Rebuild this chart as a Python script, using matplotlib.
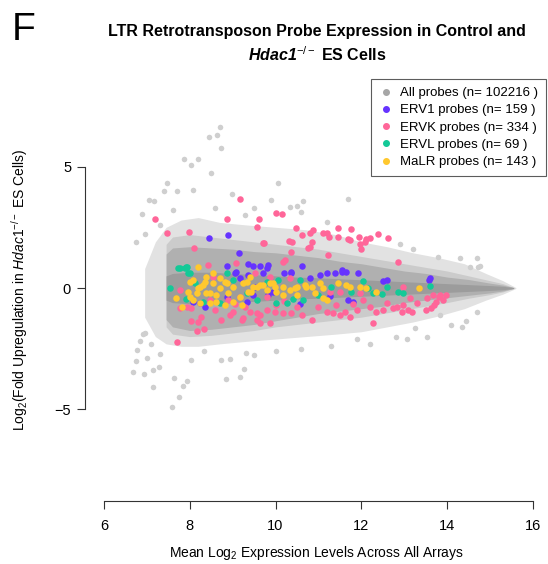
import matplotlib
matplotlib.use('Agg')
import matplotlib.pyplot as plt
from matplotlib.lines import Line2D

plt.rcParams['font.family'] = ['Liberation Sans', 'DejaVu Sans']
plt.rcParams['mathtext.fontset'] = 'custom'
plt.rcParams['mathtext.rm'] = 'Liberation Sans'
plt.rcParams['mathtext.it'] = 'Liberation Sans:italic'
plt.rcParams['mathtext.bf'] = 'Liberation Sans:bold'
plt.rcParams['mathtext.bfit'] = 'Liberation Sans:bold:italic'

# gray cloud outline
halo_x = [6.95, 7.2, 7.45, 7.8, 8.2, 8.7, 9.3, 10.0, 10.7, 11.4, 12.0, 12.6, 13.2, 13.8, 14.4, 14.9, 15.3, 15.6]
halo_hi = [0.8, 1.9, 2.5, 2.8, 2.9, 2.7, 2.6, 2.5, 2.4, 2.2, 1.9, 1.7, 1.45, 1.25, 1.0, 0.6, 0.3, 0.02]
halo_lo = [-1.2, -2.0, -2.3, -2.4, -2.4, -2.3, -2.2, -2.1, -2.0, -1.9, -1.8, -1.6, -1.4, -1.15, -0.85, -0.5, -0.25, -0.02]

dense_x = [7.45, 7.6, 8.0, 8.5, 9.0, 9.5, 10.0, 10.5, 11.0, 11.5, 12.0, 12.5, 13.0, 13.5, 14.0, 14.5, 15.0, 15.3, 15.55]
mid_hi = [1.8, 2.1, 2.2, 2.1, 2.0, 1.9, 1.8, 1.7, 1.6, 1.45, 1.3, 1.15, 1.0, 0.85, 0.7, 0.5, 0.3, 0.18, 0.02]
mid_lo = [-1.6, -1.9, -2.0, -1.95, -1.85, -1.75, -1.6, -1.5, -1.4, -1.3, -1.2, -1.05, -0.9, -0.75, -0.6, -0.42, -0.27, -0.16, -0.02]
dense_hi = [1.4, 1.65, 1.7, 1.65, 1.6, 1.5, 1.45, 1.35, 1.25, 1.1, 1.0, 0.85, 0.7, 0.6, 0.45, 0.35, 0.2, 0.12, 0.02]
dense_lo = [-1.3, -1.6, -1.75, -1.7, -1.6, -1.5, -1.35, -1.2, -1.05, -0.95, -0.85, -0.75, -0.6, -0.5, -0.4, -0.3, -0.2, -0.12, -0.02]
core_hi = [0.5, 0.6, 0.65, 0.65, 0.6, 0.55, 0.5, 0.45, 0.42, 0.38, 0.34, 0.3, 0.26, 0.22, 0.18, 0.14, 0.1, 0.07, 0.02]
core_lo = [-0.5, -0.6, -0.65, -0.65, -0.6, -0.55, -0.5, -0.45, -0.42, -0.38, -0.34, -0.3, -0.26, -0.22, -0.18, -0.14, -0.1, -0.07, -0.02]

# scattered gray probes outside the cloud
gray_pts = [
    (8.70, 6.63), (8.63, 6.30), (8.45, 6.20), (8.72, 5.77), (7.87, 5.30), (8.02, 5.06), (8.20, 5.30),
    (8.49, 4.75), (7.48, 4.33), (7.40, 4.00), (7.70, 4.00), (8.07, 4.03), (8.98, 3.87), (10.06, 4.33),
    (7.05, 3.62), (7.17, 3.58), (6.89, 3.05), (6.76, 1.90), (6.96, 2.22), (9.89, 3.62), (9.50, 3.29),
    (11.69, 3.67), (10.63, 3.58), (10.49, 3.37), (10.34, 3.35), (10.59, 3.14), (11.2, 2.7), (9.3, 3.0),
    (8.6, 3.3), (7.6, 3.2), (7.3, 2.6), (12.9, 1.8), (13.2, 1.6),
    (6.68, -3.47), (6.74, -3.00), (6.78, -2.55), (6.96, -1.85), (7.15, -4.06), (6.94, -3.56),
    (7.15, -3.37), (7.28, -3.25), (7.58, -4.88), (7.75, -4.49), (7.63, -3.70), (7.94, -3.84),
    (7.85, -4.03), (8.84, -3.76), (9.17, -3.65), (9.26, -3.32), (8.04, -2.96), (8.34, -2.60),
    (8.72, -2.96), (8.94, -2.92), (9.49, -2.77), (9.31, -2.66), (6.92, -1.89), (7.1, -2.3),
    (7.3, -2.7), (7.0, -2.9), (6.85, -2.2), (12.2, -2.3), (12.8, -2.0), (11.3, -2.4), (10.6, -2.5),
    (10.0, -2.6), (11.9, -2.1),
    (14.30, 1.22), (14.53, 0.86), (14.72, 0.86), (13.79, 1.29), (14.70, 1.22), (14.76, 0.92),
    (14.09, -1.52), (14.35, -1.60), (14.45, -1.35), (13.52, -2.03), (13.25, -1.65), (13.06, -2.10),
    (13.83, -1.11), (14.69, -0.97),
]

ervk_pts = [
    (9.17, 3.65), (7.19, 2.83), (7.48, 2.25), (7.99, 2.30), (8.86, 2.84), (9.61, 2.83), (9.58, 2.50),
    (10.01, 3.07), (10.14, 3.05), (10.48, 2.46), (9.74, 1.86), (10.38, 1.90), (8.11, 1.63), (10.17, 1.06),
    (10.62, 2.18), (10.88, 2.39), (11.11, 2.25), (11.25, 2.09), (11.46, 2.46), (11.75, 2.42),
    (11.94, 2.11), (11.70, 2.00), (11.46, 2.11), (10.84, 1.90), (10.75, 1.66), (11.23, 1.36),
    (12.10, 2.02), (12.21, 2.04), (12.39, 2.21), (12.63, 2.04), (11.97, 1.81), (12.00, 1.60),
    (12.86, 1.08), (10.31, 1.93), (10.37, 1.49), (10.22, 1.15), (10.80, 2.25), (11.20, 2.25),
    (11.73, 1.98), (12.08, 1.91), (10.80, 1.70), (9.71, 1.84), (8.42, 0.95), (9.09, 1.01),
    (13.68, -0.29), (13.81, -0.36), (13.75, -0.56), (13.70, -0.70), (13.62, -0.84), (13.97, -0.29),
    (9.05, -0.66), (9.25, -1.25), (9.64, -1.11), (9.87, -1.45), (9.99, -0.97), (10.18, -1.04),
    (10.37, -1.04), (10.61, -1.11), (10.84, -1.32), (11.19, -0.97), (11.34, -1.04), (11.50, -1.11),
    (11.62, -0.97), (11.73, -1.18), (11.89, -0.91), (12.04, -0.49), (12.28, -1.45), (12.35, -0.97),
    (12.51, -0.91), (12.74, -0.84), (12.94, -0.97), (13.17, -0.97), (12.98, -0.70), (8.94, -1.11),
    (9.40, -0.97), (12.98, 0.05), (13.13, -0.42), (13.09, -0.91), (13.52, -0.42), (13.83, -0.29),
    (13.91, -0.49), (7.71, -2.21), (8.18, -1.77), (8.33, -1.70), (8.04, -1.35), (8.20, -1.39),
    (8.27, -1.18), (8.74, -1.32), (9.01, -0.97), (9.21, -1.32), (9.56, -1.32), (7.77, -0.84),
    (8.04, -0.84), (9.52, 0.60), (10.34, 0.40), (11.27, -0.15), (11.50, -0.15), (11.97, -0.22),
    (9.56, -1.04), (9.79, -0.91), (9.64, -1.45), (12.82, -0.77), (8.55, 0.47), (9.17, -0.36),
    (8.47, -0.49), (9.79, -0.36), (9.87, 0.47), (7.93, -0.77), (10.0, -0.7), (10.5, -0.8),
    (11.0, -0.8), (11.4, -0.7), (12.2, -0.8), (12.6, -0.6), (13.3, -0.6), (13.5, -0.9), (10.2, -0.55),
    (11.8, -0.65), (9.3, -0.8), (8.6, -0.9), (8.9, -0.5), (7.78, -0.1),
]

erv1_pts = [
    (8.45, 2.04), (8.89, 2.18), (9.15, 1.43), (8.86, 0.92), (9.36, 0.99), (9.48, 0.92), (9.64, 0.92),
    (9.79, 0.81), (10.20, 0.63), (8.08, -0.56), (8.35, -0.77), (9.09, 0.67), (9.17, 0.40), (9.52, 0.05),
    (8.24, -0.63), (9.33, -0.56), (9.83, 0.95), (9.71, 0.60), (10.37, 0.63), (10.61, 0.91), (10.80, 0.40),
    (11.03, 0.53), (11.19, 0.60), (11.38, 0.60), (11.54, 0.67), (11.65, 0.67), (11.93, 0.63),
    (12.51, 0.29), (12.59, 0.33), (11.69, -0.49), (11.81, -0.56), (11.27, -0.33), (9.95, -0.15),
    (10.57, -0.66), (9.48, -0.29), (13.58, 0.33), (13.61, 0.40), (9.05, 0.60), (9.36, 0.53),
    (9.83, -0.29), (8.86, -0.36), (10.35, 0.67), (11.54, 0.74),
]

ervl_pts = [
    (7.77, 0.81), (7.89, 0.81), (7.94, 0.88), (7.96, 0.63), (7.73, 0.81), (7.91, 0.85), (8.00, 0.60),
    (7.54, 0.00), (7.91, -0.47), (9.79, 0.26), (10.02, -0.63), (10.41, -0.47), (10.64, -0.49),
    (11.30, 0.05), (12.04, 0.30), (12.47, -0.25), (12.86, -0.15), (12.98, -0.19), (11.77, -0.15),
    (9.56, -0.49), (13.60, 0.08), (8.70, -0.63), (8.86, 0.60), (9.33, -0.22), (10.06, 0.33),
    (10.57, 0.33), (12.16, -0.01), (10.26, -0.63), (12.28, -0.22), (8.12, 0.19), (8.31, -0.56),
    (9.0, 0.35), (11.0, -0.3), (12.6, 0.05),
]

malr_pts = [
    (8.20, 0.88), (8.00, 0.26), (7.96, -0.15), (7.69, -0.42), (7.81, -0.79), (8.24, 0.05), (8.35, 0.26),
    (8.16, -0.22), (8.39, -0.22), (8.55, 0.19), (8.62, -0.29), (8.70, 0.00), (8.82, 0.26), (8.90, -0.22),
    (9.01, 0.05), (9.17, -0.36), (9.25, 0.19), (9.36, -0.15), (8.47, -0.63), (9.01, -0.56), (8.08, -0.49),
    (8.82, -0.70), (8.55, 0.60), (9.56, 0.05), (9.71, 0.12), (9.87, 0.19), (10.02, -0.15), (10.18, 0.05),
    (10.34, -0.08), (10.49, 0.05), (10.68, 0.12), (10.84, 0.05), (11.03, 0.19), (11.11, -0.01),
    (11.46, 0.19), (11.73, 0.05), (11.97, 0.05), (12.12, -0.01), (12.35, -0.15), (10.49, -0.29),
    (9.44, -0.15), (11.19, -0.49), (10.18, -0.29), (8.08, 0.33), (8.20, 0.00), (8.31, 0.12),
    (8.47, -0.22), (8.86, 0.19), (9.33, 0.26), (9.48, 0.05), (9.64, 0.12), (9.79, -0.08), (9.95, 0.19),
    (8.00, -0.36), (8.24, -0.63), (8.62, -0.56), (9.21, -0.70), (8.39, 0.47), (8.70, 0.40), (9.40, 0.47),
    (9.99, 0.05), (10.45, -0.01), (10.72, 0.05), (11.65, 0.12), (10.92, -0.22), (11.11, -0.42),
    (13.35, -0.01),
]

groups = [
    ('All probes (n= 102216 )', '#a6a6a6'),
    ('ERV1 probes (n= 159 )', '#6633ff'),
    ('ERVK probes (n= 334 )', '#ff6699'),
    ('ERVL probes (n= 69 )', '#14c997'),
    ('MaLR probes (n= 143 )', '#ffc82e'),
]

fig = plt.figure(figsize=(5.48, 5.64), dpi=100)
ax = fig.add_axes([85 / 548, 63 / 564, 463 / 548, 391 / 564])
ax.set_xlim(5.56, 16.35)
ax.set_ylim(-8.77, 7.33)

ax.fill_between(halo_x, halo_lo, halo_hi, color='#e2e2e2', lw=0)
ax.fill_between(dense_x, mid_lo, mid_hi, color='#cbcbcb', lw=0)
ax.fill_between(dense_x, dense_lo, dense_hi, color='#b0b0b0', lw=0)
ax.fill_between(dense_x, core_lo, core_hi, color='#9c9c9c', lw=0)
gx, gy = zip(*gray_pts)
ax.scatter(gx, gy, s=16, color='#cfcfcf', lw=0)

for pts, (_, col), z in [(erv1_pts, groups[1], 3), (ervk_pts, groups[2], 3),
                         (ervl_pts, groups[3], 4), (malr_pts, groups[4], 5)]:
    px, py = zip(*pts)
    ax.scatter(px, py, s=22, color=col, lw=0, zorder=z)

for side in ['top', 'right']:
    ax.spines[side].set_visible(False)
ax.spines['left'].set_bounds(-5, 5)
ax.spines['bottom'].set_bounds(6, 16)
for side in ['left', 'bottom']:
    ax.spines[side].set_color('#333333')
    ax.spines[side].set_linewidth(0.8)
ax.set_xticks([6, 8, 10, 12, 14, 16])
ax.set_yticks([-5, 0, 5])
ax.tick_params(direction='out', length=6, width=0.8, color='#333333', labelsize=10.5, pad=4)
ax.tick_params(axis='x', pad=7)

ax.set_xlabel('Mean Log$_2$ Expression Levels Across All Arrays', fontsize=10, labelpad=8)
ax.set_ylabel(r'Log$_2$(Fold Upregulation in $\mathit{Hdac1}^{-/-}$ ES Cells)', fontsize=10)
ax.yaxis.set_label_coords(-0.118, 0.54)

fig.text(317 / 548, 1 - 44 / 564,
         'LTR Retrotransposon Probe Expression in Control and\n'
         r'$\mathbfit{Hdac1}^{-/-}$ ES Cells',
         ha='center', va='center', fontsize=11.5, fontweight='bold', linespacing=1.35)
fig.text(12 / 548, 1 - 30 / 564, 'F', fontsize=28, ha='left', va='center')

handles = [Line2D([], [], marker='o', ls='none', color=c, markersize=4, label=l) for l, c in groups]
leg = fig.legend(handles=handles, loc='upper right', bbox_to_anchor=(546 / 548, 1 - 79 / 564),
                 fontsize=9.5, frameon=True, fancybox=False, edgecolor='#333333',
                 handlelength=1.0, handletextpad=0.6, labelspacing=0.38, borderpad=0.6,
                 borderaxespad=0)
leg.get_frame().set_linewidth(0.8)

fig.savefig('out.png', dpi=100)
